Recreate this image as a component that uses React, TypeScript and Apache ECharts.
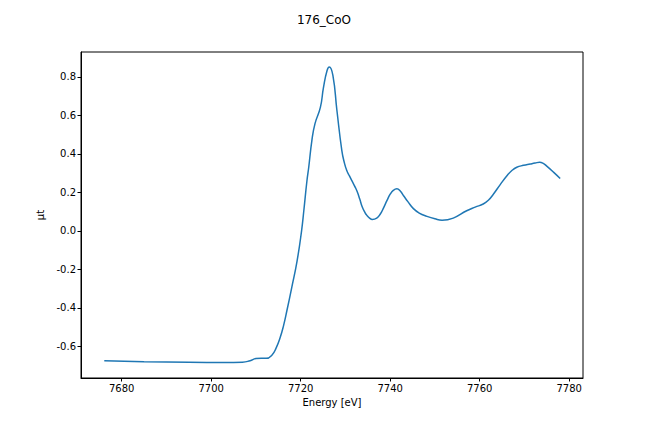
import React, { useEffect, useRef } from "react";
import * as echarts from "echarts";

const TITLE = "176_CoO";
const X_NAME = "Energy [eV]";
const Y_NAME = "μt";

const energy = [
  7676.1, 7685, 7695, 7703, 7707.0, 7708.7, 7710.0, 7711.2, 7712.3, 7713.6,
  7714.5, 7715.4, 7716.2, 7716.9, 7718.0, 7719.2, 7720.2, 7720.7, 7721.4,
  7721.8, 7722.5, 7723.2, 7724.4, 7725.1, 7725.9, 7726.4, 7727.2, 7728.1,
  7729.2, 7729.8, 7730.3, 7730.9, 7731.4, 7732.0, 7732.6, 7733.2, 7733.7,
  7734.3, 7734.8, 7735.4, 7736.0, 7737.0, 7737.8, 7738.5, 7739.3, 7740.0,
  7740.7, 7741.5, 7742.3, 7743.0, 7744.0, 7745.2, 7746.5, 7748.2, 7750.0,
  7751.6, 7754.1, 7757.1, 7759.0, 7760.8, 7762.0, 7763.1, 7764.6, 7766.1,
  7767.2, 7768.3, 7769.8, 7771.3, 7772.4, 7773.4, 7774.3, 7775.0, 7776.5,
  7778.0,
];

const mu = [
  -0.676, -0.680, -0.683, -0.684, -0.683, -0.675, -0.664, -0.662, -0.663,
  -0.645, -0.61, -0.556, -0.49, -0.417, -0.295, -0.156, 0.0, 0.104, 0.26,
  0.33, 0.469, 0.557, 0.641, 0.745, 0.833, 0.851, 0.807, 0.625, 0.417,
  0.35, 0.313, 0.285, 0.262, 0.235, 0.205, 0.165, 0.128, 0.098, 0.08,
  0.066, 0.059, 0.066, 0.087, 0.118, 0.158, 0.19, 0.21, 0.218, 0.205,
  0.182, 0.15, 0.115, 0.092, 0.075, 0.062, 0.055, 0.066, 0.104, 0.123,
  0.139, 0.16, 0.191, 0.24, 0.286, 0.313, 0.33, 0.34, 0.347, 0.352, 0.356,
  0.349, 0.336, 0.305, 0.272,
];

const xTicks = [7680, 7700, 7720, 7740, 7760, 7780];
const yTicks = [-0.6, -0.4, -0.2, 0.0, 0.2, 0.4, 0.6, 0.8];

const FONT = "DejaVu Sans";

export default function App() {
  const ref = useRef<HTMLDivElement>(null);
  useEffect(() => {
    document.body.style.margin = "0";
    if (!ref.current) return;
    const chart = echarts.init(ref.current, undefined, { renderer: "svg" });
    const data = energy.map((e, i) => [e, mu[i]]);
    chart.setOption({
      animation: false,
      backgroundColor: "#ffffff",
      title: {
        text: TITLE,
        left: "center",
        top: 9,
        textStyle: { fontFamily: FONT, fontSize: 12, fontWeight: "normal", color: "#000" },
      },
      grid: {
        left: 81,
        right: 65,
        top: 52,
        bottom: 54,
        show: true,
        borderColor: "#000",
        borderWidth: 1,
        backgroundColor: "transparent",
      },
      xAxis: {
        type: "value",
        min: 7670.9,
        max: 7783.1,
        name: X_NAME,
        nameLocation: "middle",
        nameGap: 19,
        nameTextStyle: { fontFamily: FONT, fontSize: 10, color: "#000" },
        axisLine: { show: true, onZero: false, lineStyle: { color: "#000", width: 1 } },
        axisTick: {
          show: true,
          length: 3.5,
          inside: false,
          customValues: xTicks,
          lineStyle: { color: "#000", width: 1 },
        },
        axisLabel: {
          customValues: xTicks,
          margin: 5,
          fontFamily: FONT,
          fontSize: 10,
          color: "#000",
          formatter: (v: number) => String(Math.round(v)),
        },
        splitLine: { show: false },
      },
      yAxis: {
        type: "value",
        min: -0.765,
        max: 0.929,
        name: Y_NAME,
        nameLocation: "middle",
        nameGap: 36,
        nameRotate: 90,
        nameTextStyle: { fontFamily: FONT, fontSize: 10, color: "#000" },
        axisLine: { show: true, onZero: false, lineStyle: { color: "#000", width: 1 } },
        axisTick: {
          show: true,
          length: 3.5,
          inside: false,
          customValues: yTicks,
          lineStyle: { color: "#000", width: 1 },
        },
        axisLabel: {
          customValues: yTicks,
          margin: 5,
          fontFamily: FONT,
          fontSize: 10,
          color: "#000",
          formatter: (v: number) => v.toFixed(1),
        },
        splitLine: { show: false },
      },
      series: [
        {
          type: "line",
          data,
          showSymbol: false,
          smooth: 0.5,
          lineStyle: { color: "#1f77b4", width: 1.5 },
          clip: true,
        },
      ],
    });
    return () => chart.dispose();
  }, []);
  return <div ref={ref} style={{ width: 648, height: 432 }} />;
}
